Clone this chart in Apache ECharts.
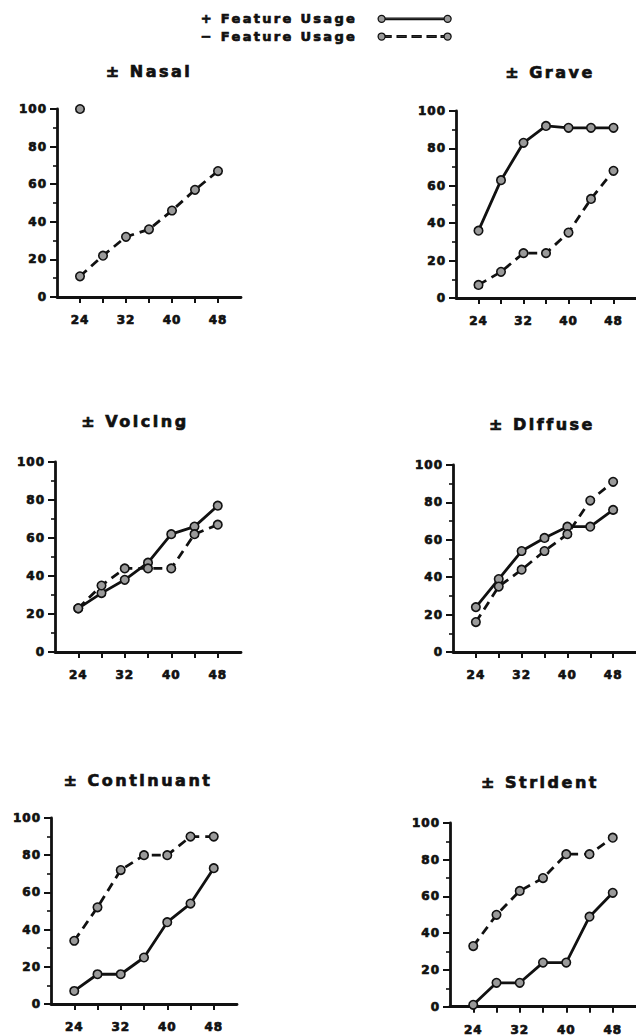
<!DOCTYPE html>
<html>
<head>
<meta charset="utf-8">
<script src="https://cdn.jsdelivr.net/npm/echarts@6/dist/echarts.min.js"></script>
<style>
html, body { margin: 0; padding: 0; background: #fff; }
#main { width: 636px; height: 1036px; }
/* the original print uses very wide tracking */
#main text { letter-spacing: 1px; }
#main text[style*="16px"] { letter-spacing: 2.5px; }
#main text[style*="13px"] { letter-spacing: 2.3px; }
</style>
</head>
<body>
<div id="main"></div>
<script>
// age in months
var ages = [24, 28, 32, 36, 40, 44, 48];
var ageLabels = [24, 32, 40, 48];
var panelNames = ['Nasal', 'Grave', 'Voicing', 'Diffuse', 'Continuant', 'Strident'];

// % feature usage, + feature (solid) and - feature (dashed)
var nasalPlus = [100, null, null, null, null, null, null];
var nasalMinus = [11, 22, 32, 36, 46, 57, 67];
var gravePlus = [36, 63, 83, 92, 91, 91, 91];
var graveMinus = [7, 14, 24, 24, 35, 53, 68];
var voicingPlus = [23, 31, 38, 47, 62, 66, 77];
var voicingMinus = [23, 35, 44, 44, 44, 62, 67];
var diffusePlus = [24, 39, 54, 61, 67, 67, 76];
var diffuseMinus = [16, 35, 44, 54, 63, 81, 91];
var continuantPlus = [7, 16, 16, 25, 44, 54, 73];
var continuantMinus = [34, 52, 72, 80, 80, 90, 90];
var stridentPlus = [1, 13, 13, 24, 24, 49, 62];
var stridentMinus = [33, 50, 63, 70, 83, 83, 92];

var plusName = '+ Feature Usage';
var minusName = '\u2212 Feature Usage';

var plusSets = [nasalPlus, gravePlus, voicingPlus, diffusePlus, continuantPlus, stridentPlus];
var minusSets = [nasalMinus, graveMinus, voicingMinus, diffuseMinus, continuantMinus, stridentMinus];

// layout of the six small plots
var grids = [
	{ left: 57, top: 109, width: 184, height: 188 },
	{ left: 456, top: 111, width: 184, height: 187 },
	{ left: 55, top: 462, width: 186, height: 190 },
	{ left: 453, top: 465, width: 185, height: 187 },
	{ left: 51, top: 818, width: 186, height: 186 },
	{ left: 450, top: 823, width: 186, height: 185 }
];
var titlePos = [[149, 63], [550, 64], [135, 413], [542, 416], [138, 772], [540, 774]];

var ink = '#111';
var fontFam = '"DejaVu Sans", sans-serif';
// heavier print look
var heavy = { textBorderColor: ink, textBorderWidth: 0.7 };

function pairs(vals) {
	var out = [];
	for (var i = 0; i < ages.length; i++) {
		out.push([ages[i], vals[i]]);
	}
	return out;
}

var solidIcon = 'path://M0,4a3.5,3.5 0 1,0 7,0a3.5,3.5 0 1,0 -7,0Z M7,3.2L66,3.2L66,4.8L7,4.8Z M66,4a3.5,3.5 0 1,0 7,0a3.5,3.5 0 1,0 -7,0Z';
var dashIcon = 'path://M0,4a3.5,3.5 0 1,0 7,0a3.5,3.5 0 1,0 -7,0Z M7,3.2L13,3.2L13,4.8L7,4.8Z M19,3.2L28,3.2L28,4.8L19,4.8Z M34,3.2L43,3.2L43,4.8L34,4.8Z M49,3.2L58,3.2L58,4.8L49,4.8Z M63,3.2L66,3.2L66,4.8L63,4.8Z M66,4a3.5,3.5 0 1,0 7,0a3.5,3.5 0 1,0 -7,0Z';

var titles = [], xAxes = [], yAxes = [], series = [];

for (var g = 0; g < grids.length; g++) {
	titles.push({
		text: '\u00b1 ' + panelNames[g],
		left: titlePos[g][0],
		top: titlePos[g][1],
		textAlign: 'center',
		padding: 0,
		textStyle: Object.assign({ fontFamily: fontFam, fontSize: 16, fontWeight: 'bold', color: ink }, heavy)
	});
	xAxes.push({
		type: 'value',
		gridIndex: g,
		min: 20,
		max: 52,
		interval: 4,
		axisLine: { show: true, lineStyle: { color: ink, width: 2.8 } },
		axisTick: { show: true, customValues: ages, length: 6, lineStyle: { color: ink, width: 2 } },
		axisLabel: Object.assign({
			customValues: ageLabels,
			margin: 17,
			fontFamily: fontFam, fontSize: 12, fontWeight: 'bold', color: ink
		}, heavy),
		splitLine: { show: false }
	});
	yAxes.push({
		type: 'value',
		gridIndex: g,
		min: 0,
		max: 100,
		interval: 20,
		axisLine: { show: true, lineStyle: { color: ink, width: 2.8 } },
		axisTick: { show: true, length: 7, lineStyle: { color: ink, width: 2 } },
		minorTick: { show: true, splitNumber: 2, length: 4, lineStyle: { color: ink, width: 1.6 } },
		axisLabel: Object.assign({ margin: 10, fontFamily: fontFam, fontSize: 12, fontWeight: 'bold', color: ink }, heavy),
		splitLine: { show: false }
	});
	series.push({
		name: plusName,
		type: 'line',
		xAxisIndex: g,
		yAxisIndex: g,
		data: pairs(plusSets[g]),
		symbol: 'circle',
		symbolSize: 8.5,
		showSymbol: true,
		lineStyle: { color: ink, width: 2.8 },
		itemStyle: { color: '#9a9a9a', borderColor: ink, borderWidth: 1.6 },
		emphasis: { disabled: true }
	});
	series.push({
		name: minusName,
		type: 'line',
		xAxisIndex: g,
		yAxisIndex: g,
		data: pairs(minusSets[g]),
		symbol: 'circle',
		symbolSize: 8.5,
		showSymbol: true,
		lineStyle: { color: ink, width: 2.8, type: [9, 6] },
		itemStyle: { color: '#9a9a9a', borderColor: ink, borderWidth: 1.6 },
		emphasis: { disabled: true }
	});
}

var chart = echarts.init(document.getElementById('main'), null, { renderer: 'svg' });
chart.setOption({
	animation: false,
	backgroundColor: '#fff',
	title: titles,
	legend: {
		orient: 'vertical',
		left: 230,
		top: 7,
		align: 'right',
		itemWidth: 73,
		itemHeight: 8,
		itemGap: 4,
		selectedMode: false,
		data: [
			{ name: plusName, icon: solidIcon },
			{ name: minusName, icon: dashIcon }
		],
		itemStyle: { color: '#9a9a9a', borderColor: ink, borderWidth: 1.3 },
		textStyle: Object.assign({ fontFamily: fontFam, fontSize: 13, fontWeight: 'bold', color: ink, padding: [0, 16, 0, 0] }, heavy)
	},
	grid: grids,
	xAxis: xAxes,
	yAxis: yAxes,
	series: series
});
</script>
</body>
</html>
